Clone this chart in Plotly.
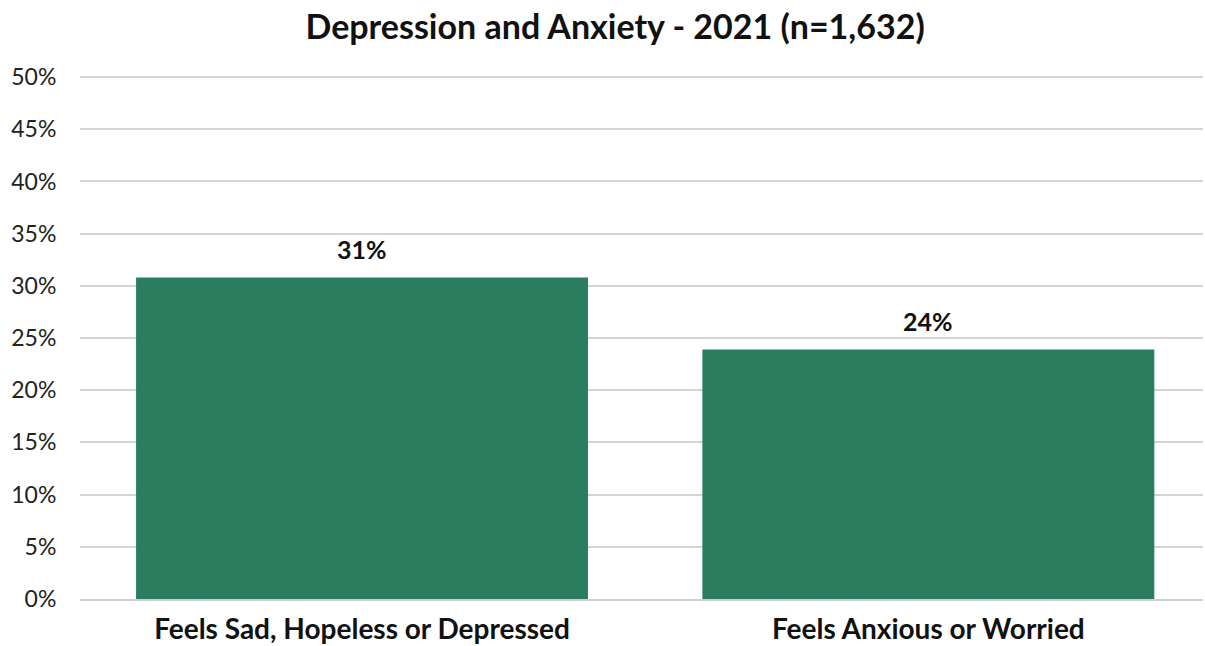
import plotly.graph_objects as go

categories = ["Feels Sad, Hopeless or Depressed", "Feels Anxious or Worried"]
values = [30.8, 23.9]
value_labels = ["31%", "24%"]
y_ticks = list(range(0, 51, 5))

fig = go.Figure()
fig.add_trace(go.Bar(x=categories, y=values, marker=dict(color='#2a7d5f', line=dict(width=0)),
                     width=0.798, hoverinfo='skip'))

for cat, val, lab in zip(categories, values, value_labels):
    fig.add_annotation(x=cat, y=val, text=f"<b>{lab}</b>", showarrow=False,
                       yanchor='bottom', yshift=12,
                       font=dict(family='Lato', size=25, color='#111111'))

fig.update_layout(
    width=1205, height=646,
    paper_bgcolor='white', plot_bgcolor='white',
    margin=dict(l=80, r=2, t=75, b=47),
    title=dict(text="<b>Depression and Anxiety - 2021 (n=1,632)</b>", x=0.5105, xanchor='center',
               y=0.958, yanchor='middle', font=dict(family='Lato', size=34, color='#111111')),
    showlegend=False,
    font=dict(family='Lato', color='#222222'),
)
fig.update_yaxes(range=[0, 50.2], tickvals=y_ticks, ticktext=[f"{t}%" for t in y_ticks],
                 showgrid=True, gridcolor='#d4d4d4', gridwidth=1.5, zeroline=False,
                 ticks='outside', ticklen=18, tickcolor='rgba(0,0,0,0)', automargin=False,
                 tickfont=dict(family='Lato', size=23, color='#222222'))
fig.update_xaxes(range=[-0.498, 1.485], showline=True, linecolor='#d0d0d0', linewidth=1.5,
                 automargin=False, ticks='outside', ticklen=5, tickcolor='rgba(0,0,0,0)',
                 tickfont=dict(family='Lato', size=28, color='#111111'),
                 tickprefix='<b>', ticksuffix='</b>')
fig.write_html("out.html", config=dict(displayModeBar=False),
               post_script="document.body.style.margin='0px';")
